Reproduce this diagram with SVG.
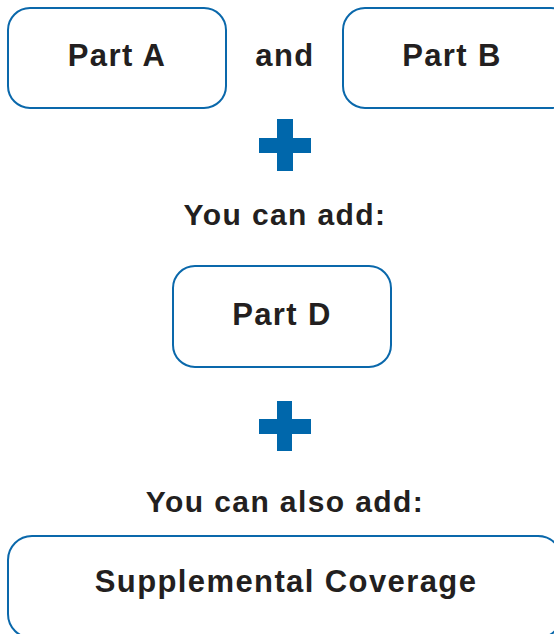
<svg xmlns="http://www.w3.org/2000/svg" width="554" height="634" viewBox="0 0 554 634">
<style>
.box{fill:#fff;stroke:#0a68ab;stroke-width:2}
.t{font-family:"Liberation Sans",Arial,sans-serif;font-weight:bold;fill:#231f20;text-anchor:middle;letter-spacing:1.4px}
.plus{fill:#0067ab}
</style>
<rect width="554" height="634" fill="#fff"/>
<g id="partA"><rect class="box" x="8" y="8" width="218" height="100" rx="22"/><text class="t" x="117" y="66" font-size="31">Part A</text></g>
<g id="and"><text class="t" x="285" y="66" font-size="31">and</text></g>
<g id="partB"><rect class="box" x="343" y="8" width="230" height="100" rx="22"/><text class="t" x="452" y="66" font-size="31">Part B</text></g>
<g id="plus1"><rect class="plus" x="277" y="119" width="16" height="52"/><rect class="plus" x="259" y="138" width="52" height="15"/></g>
<g id="youCanAdd"><text class="t" x="285" y="225" font-size="30">You can add:</text></g>
<g id="partD"><rect class="box" x="173" y="266" width="218" height="101" rx="22"/><text class="t" x="282" y="325" font-size="31">Part D</text></g>
<g id="plus2"><rect class="plus" x="277" y="401" width="15" height="50"/><rect class="plus" x="259" y="419" width="52" height="15"/></g>
<g id="youCanAlsoAdd"><text class="t" x="285" y="512" font-size="30">You can also add:</text></g>
<g id="supplemental"><rect class="box" x="8" y="536" width="554" height="102" rx="24"/><text class="t" x="286" y="592" font-size="31">Supplemental Coverage</text></g>
<g id="connectors"></g>
</svg>
